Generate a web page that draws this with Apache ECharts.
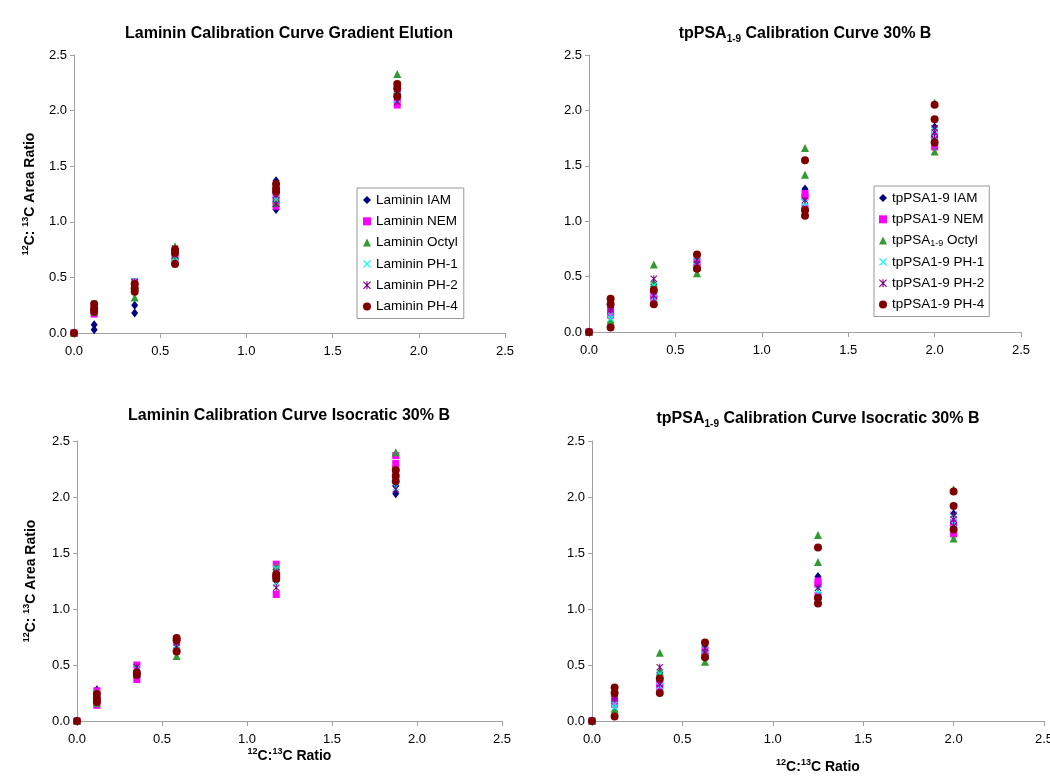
<!DOCTYPE html>
<html>
<head>
<meta charset="utf-8">
<script src="https://cdn.jsdelivr.net/npm/echarts@6/dist/echarts.min.js"></script>
<style>html,body{margin:0;padding:0;background:#fff}#c{width:1050px;height:782px}</style>
</head>
<body>
<div id="c"></div>
<script>
// ---------- data ----------
const tickLabels = ['0.0', '0.5', '1.0', '1.5', '2.0', '2.5'];
const lamX = [0, 0.117, 0.352, 0.586, 1.172, 1.875];
const psaX = [0, 0.125, 0.375, 0.625, 1.25, 2.0];

// Laminin gradient elution (replicates per x level)
const lamGradIAM   = [[0], [0.075, 0.03], [0.25, 0.18], [0.70, 0.67], [1.37, 1.11, 1.30], [2.21, 2.12, 2.16]];
const lamGradNEM   = [[0], [0.17, 0.21, 0.24], [0.46, 0.41], [0.72, 0.66], [1.14, 1.19, 1.24], [2.05, 2.10, 2.17]];
const lamGradOctyl = [[0], [0.19, 0.24], [0.32, 0.43], [0.78, 0.69], [1.21, 1.17], [2.33, 2.18]];
const lamGradPH1   = [[0], [0.22, 0.27], [0.47, 0.44], [0.74, 0.68], [1.27, 1.20], [2.10, 2.19]];
const lamGradPH2   = [[0], [0.20, 0.25], [0.46, 0.41], [0.76, 0.70], [1.16, 1.24], [2.08, 2.15]];
const lamGradPH4   = [[0], [0.26, 0.22, 0.19], [0.44, 0.40, 0.37], [0.75, 0.72, 0.62], [1.34, 1.30, 1.27], [2.24, 2.20, 2.13]];

// Laminin isocratic 30% B
const lamIsoIAM   = [[0], [0.28, 0.22], [0.45, 0.40], [0.70, 0.64], [1.35, 1.25], [2.03, 2.10, 2.18]];
const lamIsoNEM   = [[0], [0.14, 0.18, 0.27], [0.50, 0.37], [0.72, 0.63], [1.40, 1.13, 1.30], [2.37, 2.30, 2.25]];
const lamIsoOctyl = [[0], [0.16, 0.22], [0.42, 0.46], [0.58, 0.66], [1.38, 1.28], [2.40, 2.20]];
const lamIsoPH1   = [[0], [0.20, 0.25], [0.47, 0.43], [0.68, 0.62], [1.36, 1.23], [2.09, 2.15]];
const lamIsoPH2   = [[0], [0.19, 0.24], [0.48, 0.41], [0.66, 0.70], [1.19, 1.33], [2.07, 2.19]];
const lamIsoPH4   = [[0], [0.24, 0.20, 0.17], [0.43, 0.41], [0.74, 0.72, 0.62], [1.31, 1.29, 1.27], [2.24, 2.19, 2.14]];

// tpPSA1-9 30% B (same values appear in both tpPSA panels)
const psaIAM   = [[0], [0.22, 0.17], [0.43, 0.36], [0.66, 0.60], [1.29, 1.20, 1.08], [1.85, 1.78]];
const psaNEM   = [[0], [0.19, 0.15], [0.34, 0.30], [0.63, 0.58], [1.25, 1.22, 1.12], [1.77, 1.67, 1.72]];
const psaOctyl = [[0], [0.11, 0.09], [0.61, 0.44], [0.53, 0.60], [1.66, 1.42, 1.12], [2.07, 1.63]];
const psaPH1   = [[0], [0.15, 0.12], [0.42, 0.31], [0.64, 0.57], [1.17, 1.14], [1.82, 1.76]];
const psaPH2   = [[0], [0.20, 0.22], [0.48, 0.33], [0.65, 0.61], [1.07, 1.19], [1.84, 1.80, 1.74]];
const psaPH4   = [[0], [0.30, 0.25, 0.04], [0.38, 0.25], [0.70, 0.57], [1.55, 1.10, 1.05], [2.05, 1.92, 1.71]];

const lamNames = ['Laminin IAM', 'Laminin NEM', 'Laminin Octyl', 'Laminin PH-1', 'Laminin PH-2', 'Laminin PH-4'];
const psaNames = ['tpPSA1-9 IAM', 'tpPSA1-9 NEM', 'tpPSA1-9 Octyl', 'tpPSA1-9 PH-1', 'tpPSA1-9 PH-2', 'tpPSA1-9 PH-4'];

// ---------- styles ----------
const FONT = '"Liberation Sans", Arial, sans-serif';
const colors = ['#000080', '#FF00FF', '#339933', '#00FFFF', '#800080', '#800000'];
const XPATH = 'path://M0,1 L1,0 L5,4 L9,0 L10,1 L6,5 L10,9 L9,10 L5,6 L1,10 L0,9 L4,5 Z';
const STARPATH = 'path://M0,1 L1,0 L5,4 L9,0 L10,1 L6,5 L10,9 L9,10 L5,6 L1,10 L0,9 L4,5 Z M4.3,0 L5.7,0 L5.7,10 L4.3,10 Z';
const symbols = ['diamond', 'rect', 'triangle', XPATH, STARPATH, 'circle'];
const sizes = [[7, 9], 7, 8, 7, 7, 8];
const AXIS_GRAY = '#a0a0a0';

function flatten(xs, vals) {
  const out = [];
  vals.forEach((arr, i) => arr.forEach(v => out.push([xs[i], v])));
  return out;
}

function makeSeries(names, xs, sets, idx) {
  return sets.map((s, k) => ({
    type: 'scatter',
    name: names[k],
    xAxisIndex: idx, yAxisIndex: idx,
    symbol: symbols[k],
    symbolSize: sizes[k],
    itemStyle: { color: colors[k], opacity: 1 },
    emphasis: { disabled: true },
    data: flatten(xs, s)
  }));
}

const supRich = {
  b: { fontSize: 14, fontWeight: 'bold', fontFamily: FONT, color: '#000', lineHeight: 18 },
  sup: { fontSize: 9, fontWeight: 'bold', fontFamily: FONT, color: '#000', lineHeight: 10, verticalAlign: 'top' }
};
const yName = '{sup|12}{b|C: }{sup|13}{b|C Area Ratio}';
const xName = '{sup|12}{b|C:}{sup|13}{b|C Ratio}';

function xAxis(i, name, gap) {
  return {
    type: 'value', gridIndex: i, min: 0, max: 2.5, interval: 0.5,
    axisLine: { show: true, onZero: false, lineStyle: { color: AXIS_GRAY, width: 1 } },
    axisTick: { show: true, length: 5, lineStyle: { color: AXIS_GRAY } },
    axisLabel: { color: '#000', fontSize: 13, fontFamily: FONT, margin: 12,
      formatter: v => tickLabels[Math.round(v / 0.5)] },
    splitLine: { show: false },
    name: name || '', nameLocation: 'middle', nameGap: gap || 0,
    nameTextStyle: { rich: supRich }
  };
}
function yAxis(i, name, gap) {
  return {
    type: 'value', gridIndex: i, min: 0, max: 2.5, interval: 0.5,
    axisLine: { show: true, onZero: false, lineStyle: { color: AXIS_GRAY, width: 1 } },
    axisTick: { show: true, length: 4, lineStyle: { color: AXIS_GRAY } },
    axisLabel: { color: '#000', fontSize: 13, fontFamily: FONT, margin: 7,
      formatter: v => tickLabels[Math.round(v / 0.5)] },
    splitLine: { show: false },
    name: name || '', nameLocation: 'middle', nameGap: gap || 0,
    nameTextStyle: { rich: supRich }
  };
}

const titleRich = {
  b: { fontSize: 16, fontWeight: 'bold', fontFamily: FONT, color: '#000', lineHeight: 20 },
  sub: { fontSize: 10, fontWeight: 'bold', fontFamily: FONT, color: '#000', lineHeight: 12, verticalAlign: 'bottom' }
};
function title(text, cx, top) {
  return { text, left: cx, top, textAlign: 'center', padding: 0, textStyle: { rich: titleRich } };
}

const legendText = { fontSize: 13.5, fontFamily: FONT, color: '#000', lineHeight: 14,
  rich: {
    n: { fontSize: 13.5, fontFamily: FONT, color: '#000', lineHeight: 14 },
    s: { fontSize: 9, fontFamily: FONT, color: '#000', lineHeight: 9, verticalAlign: 'bottom' }
  } };

const option = {
  backgroundColor: '#fff',
  animation: false,
  title: [
    title('{b|Laminin Calibration Curve Gradient Elution}', 289, 24),
    title('{b|tpPSA}{sub|1-9}{b| Calibration Curve 30% B}', 805, 24),
    title('{b|Laminin Calibration Curve Isocratic 30% B}', 289, 406),
    title('{b|tpPSA}{sub|1-9}{b| Calibration Curve Isocratic 30% B}', 818, 409)
  ],
  grid: [
    { left: 74, top: 55, width: 431, height: 278, containLabel: false, outerBoundsMode: 'none' },
    { left: 589, top: 55, width: 432, height: 277, containLabel: false, outerBoundsMode: 'none' },
    { left: 77, top: 441, width: 425, height: 280, containLabel: false, outerBoundsMode: 'none' },
    { left: 592, top: 441, width: 452, height: 280, containLabel: false, outerBoundsMode: 'none' }
  ],
  xAxis: [xAxis(0), xAxis(1), xAxis(2, xName, 23), xAxis(3, xName, 37)],
  yAxis: [yAxis(0, yName, 35), yAxis(1), yAxis(2, yName, 37), yAxis(3)],
  legend: [
    { data: lamNames, orient: 'vertical', left: 357, top: 188, itemWidth: 8, itemHeight: 8, itemGap: 7.3,
      padding: [5, 6], borderColor: '#999', borderWidth: 1, backgroundColor: '#fff',
      selectedMode: false, textStyle: legendText },
    { data: psaNames, orient: 'vertical', left: 874, top: 186, itemWidth: 8, itemHeight: 8, itemGap: 7.3,
      padding: [5, 5], borderColor: '#999', borderWidth: 1, backgroundColor: '#fff',
      selectedMode: false, textStyle: legendText,
      formatter: n => n === 'tpPSA1-9 Octyl' ? '{n|tpPSA}{s|1-9}{n| Octyl}' : n }
  ],
  series: [].concat(
    makeSeries(lamNames, lamX, [lamGradIAM, lamGradNEM, lamGradOctyl, lamGradPH1, lamGradPH2, lamGradPH4], 0),
    makeSeries(psaNames, psaX, [psaIAM, psaNEM, psaOctyl, psaPH1, psaPH2, psaPH4], 1),
    makeSeries(lamNames, lamX, [lamIsoIAM, lamIsoNEM, lamIsoOctyl, lamIsoPH1, lamIsoPH2, lamIsoPH4], 2),
    makeSeries(psaNames, psaX, [psaIAM, psaNEM, psaOctyl, psaPH1, psaPH2, psaPH4], 3)
  )
};

const chart = echarts.init(document.getElementById('c'), null, { renderer: 'canvas' });
chart.setOption(option);
</script>
</body>
</html>
